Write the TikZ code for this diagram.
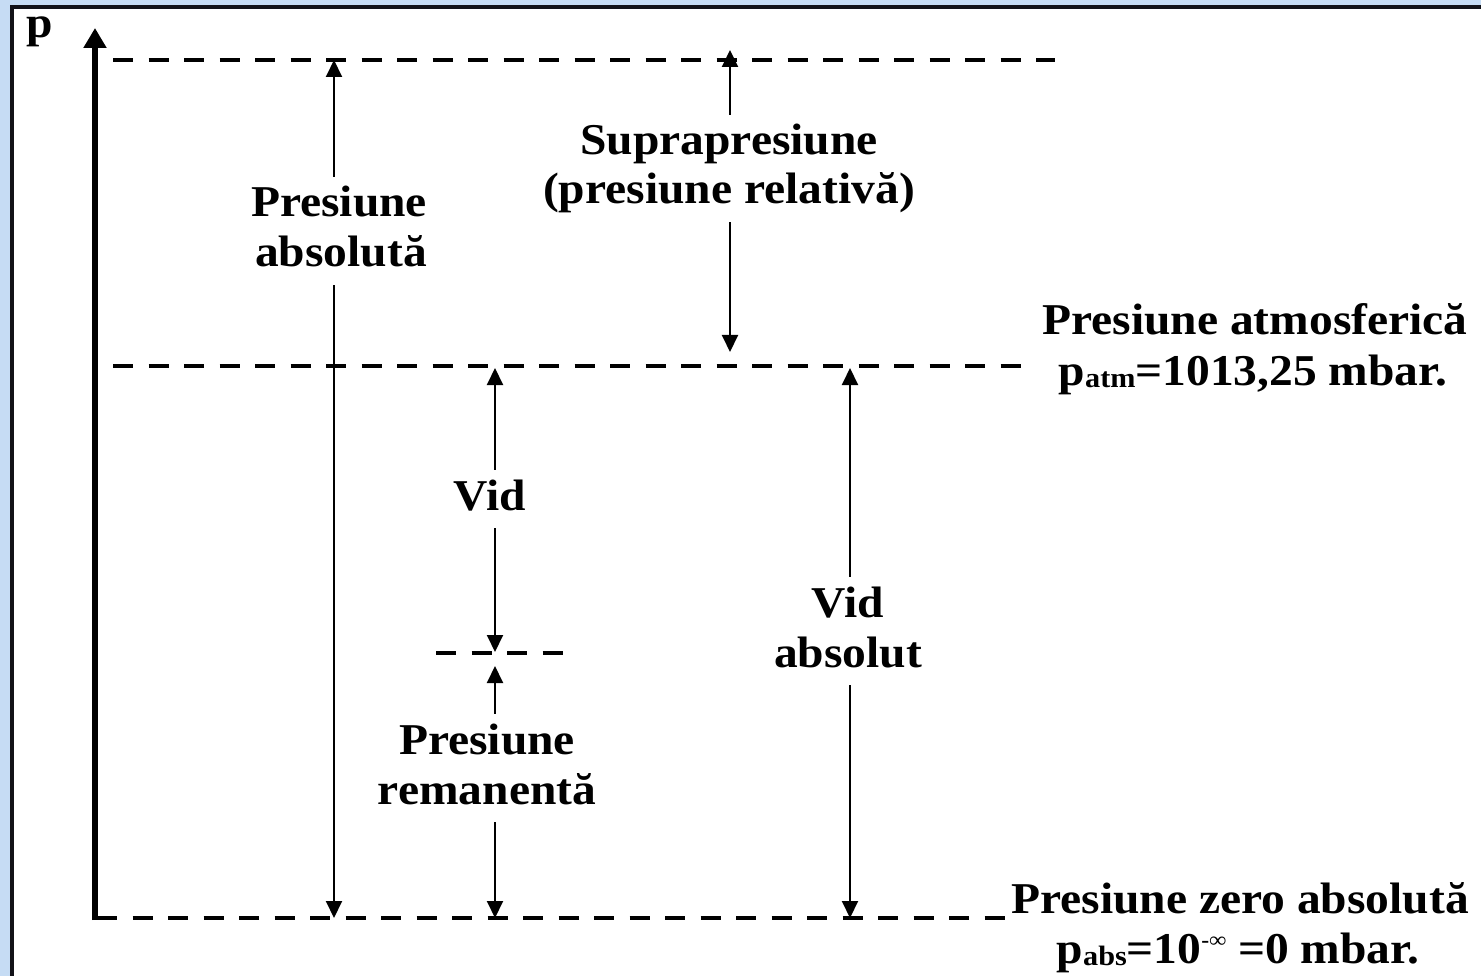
\documentclass[tikz,border=0pt]{standalone}
\usepackage{fontspec}
\setmainfont{Liberation Serif}[FakeStretch=1.08]
\usetikzlibrary{arrows.meta}
\definecolor{panelblue}{HTML}{C6DCF4}
\definecolor{framedark}{HTML}{121218}
\newcommand{\lowtxt}[1]{\raisebox{-2pt}{\fontsize{28}{28}\selectfont #1}}
\begin{document}
\begin{tikzpicture}[x=1pt,y=-1pt,
  level/.style={line width=3.8pt, dash pattern=on 20pt off 15.5pt},
  tipend/.style={-{Triangle[length=17pt,width=16pt]}, line width=2pt},
  lbl/.style={font=\fontsize{44}{50}\selectfont\bfseries, text height=32pt,
              text depth=10pt, inner sep=8pt, anchor=base},
  side/.style={font=\fontsize{44}{50}\selectfont\bfseries, inner sep=0pt, anchor=base},
]
\useasboundingbox (0,0) rectangle (1481,976);

% panel background and frame
\fill[panelblue] (0,0) rectangle (1481,976);
\fill[white] (14,9) rectangle (1481,976);
\draw[framedark, line width=4pt] (12,976) -- (12,7) -- (1481,7);

% reference levels
\coordinate (topL) at (113,60);   \coordinate (topR) at (1055,60);
\coordinate (atmL) at (113,366);  \coordinate (atmR) at (1024,366);
\coordinate (remL) at (436,653);  \coordinate (remR) at (563,653);
\coordinate (zeroL) at (97,918);  \coordinate (zeroR) at (1007,918);
\draw[level] (topL) -- (topR);
\draw[level] (atmL) -- (atmR);
\draw[level] (remL) -- (remR);
\draw[level] (zeroL) -- (zeroR);

% pressure axis
\coordinate (axisFoot) at (95,920);
\coordinate (axisTop) at (95,28);
\draw[line width=5.5pt, -{Triangle[length=20pt,width=22pt]}] (axisFoot) -- (axisTop);
\node[side] (paxis) at (40,38) {p};

% absolute pressure
\coordinate (absHi) at (334,60);
\coordinate (absLo) at (334,918);
\node[lbl] (absA) at (339,217) {Presiune};
\node[lbl] (absB) at (341,267) {absolută};
\draw[tipend] (absA.north -| absHi) -- (absHi);
\draw[tipend] (absB.south -| absLo) -- (absLo);

% overpressure
\coordinate (supHi) at (730,50);
\coordinate (supLo) at (730,352);
\node[lbl] (supA) at (729,155) {Suprapresiune};
\node[lbl] (supB) at (729,204) {(presiune relativă)};
\draw[tipend] (supA.north -| supHi) -- (supHi);
\draw[tipend] (supB.south -| supLo) -- (supLo);

% vacuum
\coordinate (vidHi) at (495,368);
\coordinate (vidLo) at (495,652);
\node[lbl] (vid) at (490,510) {Vid};
\draw[tipend] (vid.north -| vidHi) -- (vidHi);
\draw[tipend] (vid.south -| vidLo) -- (vidLo);

% residual pressure
\coordinate (remHi) at (495,666);
\coordinate (remLo) at (495,918);
\node[lbl] (remA) at (487,754) {Presiune};
\node[lbl] (remB) at (487,804) {remanentă};
\draw[tipend] (remA.north -| remHi) -- (remHi);
\draw[tipend] (remB.south -| remLo) -- (remLo);

% absolute vacuum
\coordinate (vabHi) at (850,368);
\coordinate (vabLo) at (850,918);
\node[lbl] (vabA) at (848,617) {Vid};
\node[lbl] (vabB) at (848,667) {absolut};
\draw[tipend] (vabA.north -| vabHi) -- (vabHi);
\draw[tipend] (vabB.south -| vabLo) -- (vabLo);

% level captions
\node[side] (atmA) at (1255,335) {Presiune atmosferică};
\node[side] (atmB) at (1253,385) {p\lowtxt{atm}=1013,25 mbar.};
\node[side] (zeroA) at (1240,913) {Presiune zero absolută};
\node[side] (zeroB) at (1238,963) {p\lowtxt{abs}=10\raisebox{16pt}{\fontsize{22}{22}\selectfont -∞} =0 mbar.};
\end{tikzpicture}
\end{document}
